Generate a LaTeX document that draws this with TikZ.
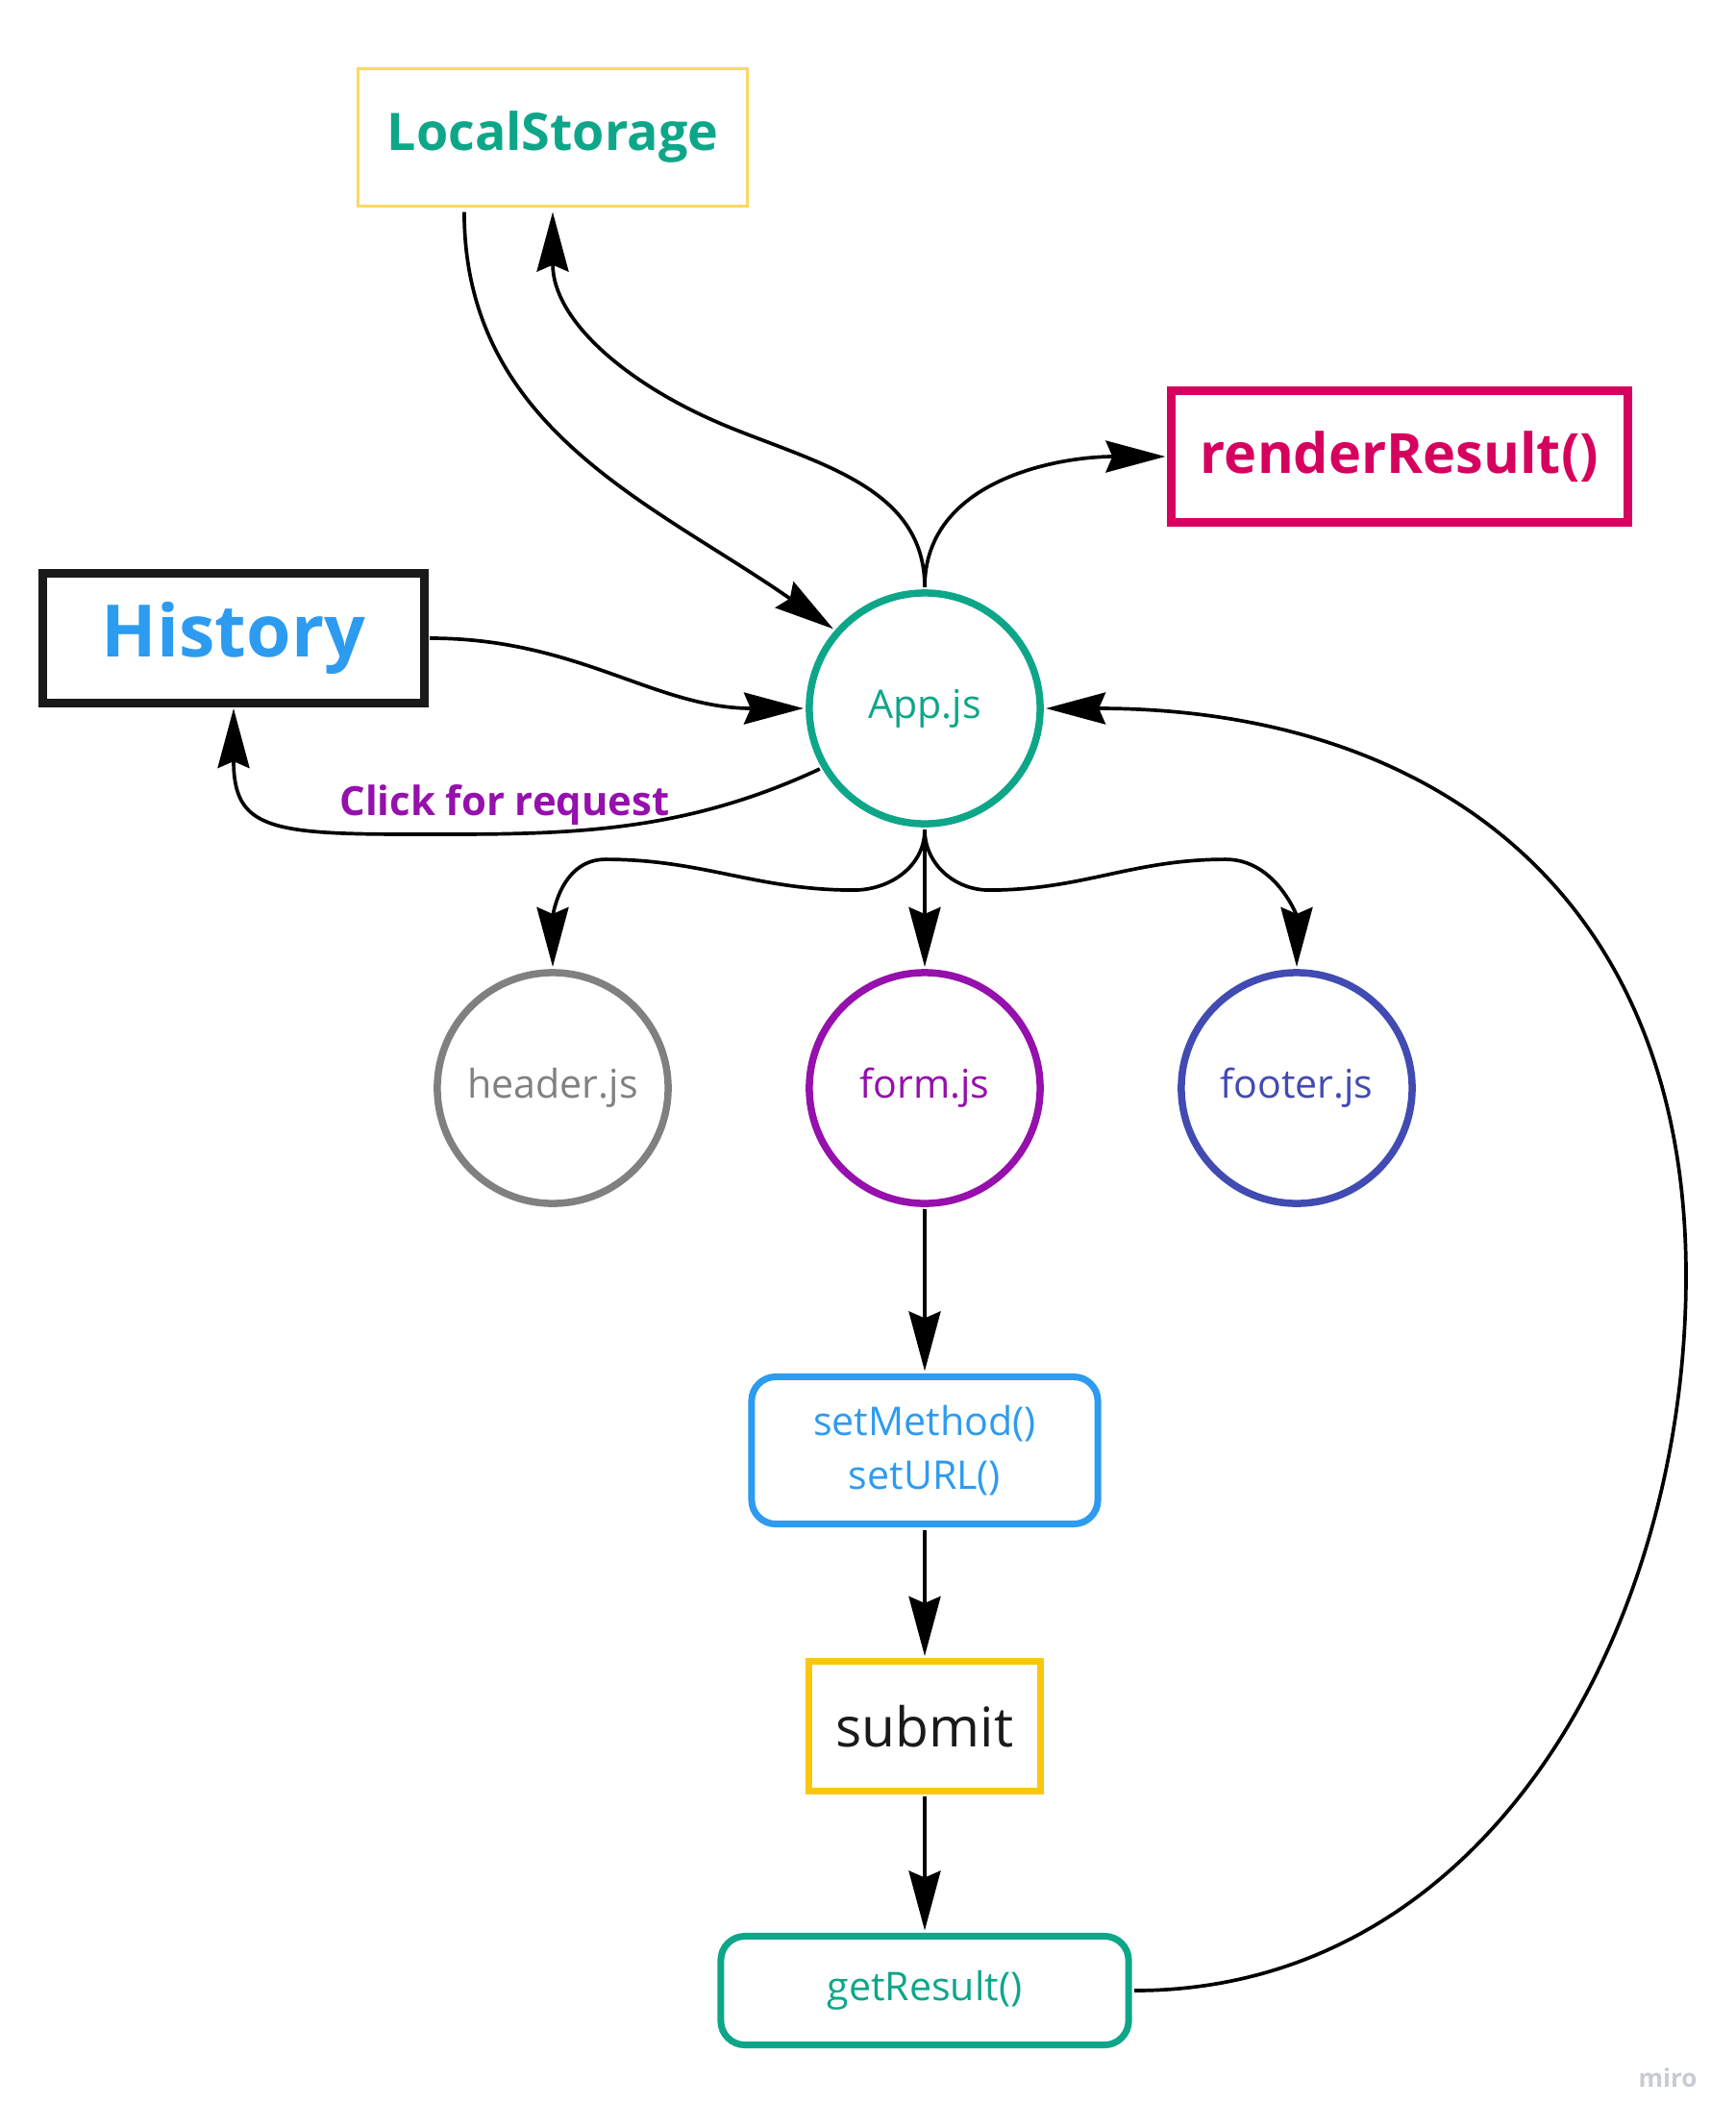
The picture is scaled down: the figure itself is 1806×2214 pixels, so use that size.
\documentclass[tikz,border=0pt]{standalone}
\usepackage{fontspec}
\setmainfont{Open Sans}
\definecolor{TealColor}{RGB}{14,166,137}
\definecolor{SunColor}{RGB}{250,217,97}
\definecolor{GoldColor}{RGB}{250,199,16}
\definecolor{RoseColor}{RGB}{214,0,94}
\definecolor{SkyColor}{RGB}{45,155,240}
\definecolor{InkColor}{RGB}{26,26,26}
\definecolor{GreyColor}{RGB}{128,128,128}
\definecolor{PlumColor}{RGB}{149,16,172}
\definecolor{IndigoColor}{RGB}{65,75,178}
\definecolor{MiroColor}{RGB}{200,202,212}
\usetikzlibrary{arrows.meta}

\begin{document}
\begin{tikzpicture}[x=0.01cm, y=-0.01cm,
    flow/.style={-{Stealth[length=6.2mm, width=3.3mm, inset=0.7mm]}, line width=1.05pt, black},
    module/.style={circle, draw, line width=0.075cm, minimum size=2.4cm, inner sep=0pt, outer sep=0.06cm, font=\fontsize{11.7}{14}\selectfont},
    plainbox/.style={rectangle, draw, inner sep=0pt, outer sep=0.06cm},
    roundbox/.style={rectangle, draw, rounded corners=0.25cm, line width=0.07cm, inner sep=0pt, outer sep=0.06cm, align=center, font=\fontsize{11.7}{15.9}\selectfont}]
  \useasboundingbox (0,0) rectangle (1806,2214);

  % boxes on top
  \node[plainbox, draw=SunColor, line width=0.035cm, minimum width=4.05cm, minimum height=1.43cm,
        text=TealColor, font=\fontsize{15.3}{18}\selectfont\bfseries] (ls) at (575,143) {LocalStorage};
  \node[plainbox, draw=RoseColor, line width=0.085cm, minimum width=4.75cm, minimum height=1.37cm,
        text=RoseColor, font=\fontsize{16.4}{19}\selectfont\bfseries] (rr) at (1456,475) {renderResult()};
  \node[plainbox, draw=InkColor, line width=0.09cm, minimum width=3.96cm, minimum height=1.34cm,
        text=SkyColor, font=\fontsize{21.4}{26}\selectfont\bfseries] (hist) at (243,664) {History};

  % modules
  \node[module, draw=TealColor, text=TealColor] (app) at (962,737) {App.js};
  \node[module, draw=GreyColor, text=GreyColor] (header) at (575,1132) {header.js};
  \node[module, draw=PlumColor, text=PlumColor] (form) at (962,1132) {form.js};
  \node[module, draw=IndigoColor, text=IndigoColor] (footer) at (1349,1132) {footer.js};

  % request chain
  \node[roundbox, draw=SkyColor, text=SkyColor, minimum width=3.6cm, minimum height=1.53cm] (setm) at (962,1509) {setMethod()\\setURL()};
  \node[plainbox, draw=GoldColor, line width=0.07cm, minimum width=2.4cm, minimum height=1.34cm,
        text=InkColor, font=\fontsize{16.2}{19}\selectfont] (submit) at (962,1796) {submit};
  \node[roundbox, draw=TealColor, text=TealColor, minimum width=4.24cm, minimum height=1.13cm] (getres) at (962,2071) {getResult()};

  \node[text=PlumColor, font=\fontsize{11.9}{14}\selectfont\bfseries] (click) at (525,838) {Click for request};
  \node[text=MiroColor, font=\fontsize{7.4}{9}\selectfont\bfseries] (miro) at (1735,2162) {miro};
  \coordinate (loopR) at (1754,1327);

  % connectors
  \draw[flow] ([xshift=-0.92cm]ls.south) to[out=-90, in=145] (app.139);
  \draw[flow] (app.north) to[out=90, in=-22] (760,445) to[out=158, in=-90] (ls.south);
  \draw[flow] (app.north) to[out=90, in=180] (rr.west);
  \draw[flow] (hist.east) to[out=0, in=180] (app.west);
  \draw[flow] (app.210) .. controls +(-150,70) and +(150,0) .. (430,868)
                        .. controls +(-150,0) and +(0,125) .. (hist.south);
  \draw[flow] (app.south) -- (form.north);
  \draw[flow] (app.south) to[out=-90, in=0] ++(-74,63) to[out=180, in=0] ++(-258,-32) to[out=180, in=90] (header.north);
  \draw[flow] (app.south) to[out=-90, in=180] ++(67,63) to[out=0, in=180] ++(246,-32) to[out=0, in=90] (footer.north);
  \draw[flow] (form.south) -- (setm.north);
  \draw[flow] (setm.south) -- (submit.north);
  \draw[flow] (submit.south) -- (getres.north);
  \draw[flow] (getres.east) to[out=0, in=-90] (loopR) to[out=90, in=0, looseness=1.15] (app.east);
\end{tikzpicture}
\end{document}
